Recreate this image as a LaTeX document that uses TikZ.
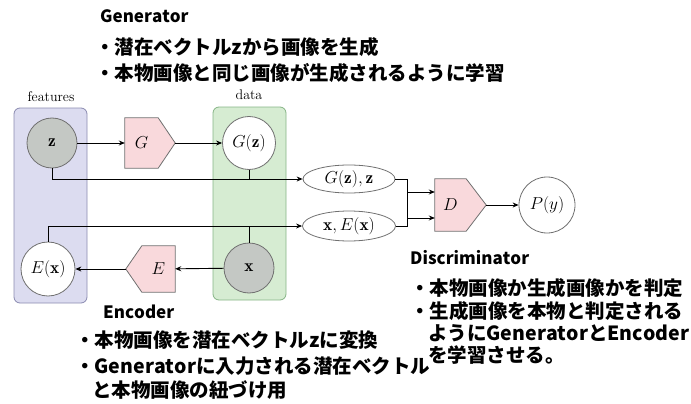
\documentclass[tikz,border=0pt]{standalone}
\usepackage{fontspec}
\newfontfamily\jp{Noto Sans CJK JP}[Kerning=Off]
\usetikzlibrary{arrows.meta,shapes.geometric}
\definecolor{featfill}{HTML}{DCDCF0}
\definecolor{featdraw}{HTML}{8A8AB0}
\definecolor{datafill}{HTML}{D6ECD2}
\definecolor{datadraw}{HTML}{86B486}
\definecolor{pinkfill}{HTML}{F9D9DC}
\definecolor{graycirc}{HTML}{C4C8C4}
\definecolor{edgegray}{HTML}{707070}
\tikzset{
  tfont/.style={font=\fontsize{14}{16}\selectfont},
  mfont/.style={font=\fontsize{17.28}{19}\selectfont},
  container/.style={draw=featdraw, fill=featfill, rounded corners=6pt, line width=0.8pt, inner sep=0pt},
  obs/.style={circle, draw=edgegray, fill=graycirc, line width=0.8pt, inner sep=0pt, mfont},
  lat/.style={circle, draw=edgegray, fill=white, line width=0.8pt, inner sep=0pt, mfont},
  ell/.style={ellipse, draw=edgegray, fill=white, line width=0.8pt, inner sep=0pt, mfont},
  pentbody/.style={inner sep=0pt, mfont},
  pent/.style={draw=edgegray, fill=pinkfill, line width=0.8pt, line join=miter},
  arr/.style={line width=0.9pt, -{Stealth[length=6pt,width=5pt]}},
  ln/.style={line width=0.9pt},
  jph/.style={anchor=west, inner sep=0pt, font=\jp\bfseries\fontsize{17}{20}\selectfont},
  jpt/.style={anchor=west, inner sep=0pt, font=\jp\bfseries\fontsize{19.5}{22}\selectfont},
}
\begin{document}
\begin{tikzpicture}[x=1pt,y=-1pt]
\useasboundingbox (0,0) rectangle (691,404);
% containers
\node[container, minimum width=73pt, minimum height=195pt] (feat) at (50.5,205.5) {};
\node[container, draw=datadraw, fill=datafill, minimum width=73pt, minimum height=193pt] (data) at (249.5,203.5) {};
\node[tfont, inner sep=0pt] (featlab) at (51,97) {features};
\node[tfont, inner sep=0pt] (datalab) at (249,95) {data};
% nodes
\node[obs, minimum size=50pt] (z) at (52,143) {$\mathbf{z}$};
\node[lat, minimum size=53pt] (Gz) at (249,143) {$G(\mathbf{z})$};
\node[lat, minimum size=54pt] (Ex) at (48,269) {$E(\mathbf{x})$};
\node[obs, minimum size=50pt] (x) at (249,268) {$\mathbf{x}$};
\node[lat, minimum size=56pt] (Py) at (547,205) {$P(y)$};
\node[ell, minimum width=92pt, minimum height=28pt] (Gzz) at (349,179) {$G(\mathbf{z}),\mathbf{z}$};
\node[ell, minimum width=93pt, minimum height=30pt] (xEx) at (349,226) {$\mathbf{x},E(\mathbf{x})$};
% pentagons
\node[pentbody, minimum width=33pt, minimum height=50pt] (G) at (141.5,143) {};
\draw[pent] (G.north west) -- (G.north east) -- ([xshift=17pt]G.east) coordinate (Gtip) -- (G.south east) -- (G.south west) -- cycle;
\node[pentbody] (Glab) at (G) {$G$};
\node[pentbody, minimum width=33pt, minimum height=46pt] (E) at (158.5,269) {};
\draw[pent] (E.north east) -- (E.north west) -- ([xshift=-16pt]E.west) coordinate (Etip) -- (E.south west) -- (E.south east) -- cycle;
\node[pentbody] (Elab) at (E) {$E$};
\node[pentbody, minimum width=31pt, minimum height=52pt] (D) at (450.5,205) {};
\draw[pent] (D.north west) -- (D.north east) -- ([xshift=20pt]D.east) coordinate (Dtip) -- (D.south east) -- (D.south west) -- cycle;
\node[pentbody] (Dlab) at (D) {$D$};
\coordinate (Din1) at ([yshift=-13pt]D.west);
\coordinate (Din2) at ([yshift=13pt]D.west);
% connectors
\draw[arr] (z) -- (G);
\draw[arr] (Gtip) -- (Gz);
\draw[arr] (z.south) |- (Gzz.west);
\draw[ln] (Gz.south) -- (Gz.south |- Gzz.west);
\draw[arr] (Ex.north) |- (xEx.west);
\draw[ln] (x.north) -- (x.north |- xEx.west);
\draw[arr] (x) -- (E);
\draw[arr] (Etip) -- (Ex);
\draw[arr] (Gzz.east) -- ++(12pt,0) |- (Din1);
\draw[arr] (xEx.east) -- ++(12pt,0) |- (Din2);
\draw[arr] (Dtip) -- (Py);
% annotations
\node[jph] (gent) at (100,16) {Generator};
\node[jpt] (gen1) at (95,47) {・潜在ベクトルzから画像を生成};
\node[jpt] (gen2) at (95,73) {・本物画像と同じ画像が生成されるように学習};
\node[jph] (enct) at (103,312) {Encoder};
\node[jpt] (enc1) at (75,340) {・本物画像を潜在ベクトルzに変換};
\node[jpt] (enc2) at (75,366) {・Generatorに入力される潜在ベクトル};
\node[jpt] (enc3) at (92,390) {と本物画像の紐づけ用};
\node[jph] (dist) at (410,258) {Discriminator};
\node[jpt] (dis1) at (410,288) {・本物画像か生成画像かを判定};
\node[jpt] (dis2) at (410,311) {・生成画像を本物と判定される};
\node[jpt] (dis3) at (428,333) {ようにGeneratorとEncoder};
\node[jpt] (dis4) at (428,355) {を学習させる。};
\end{tikzpicture}
\end{document}
